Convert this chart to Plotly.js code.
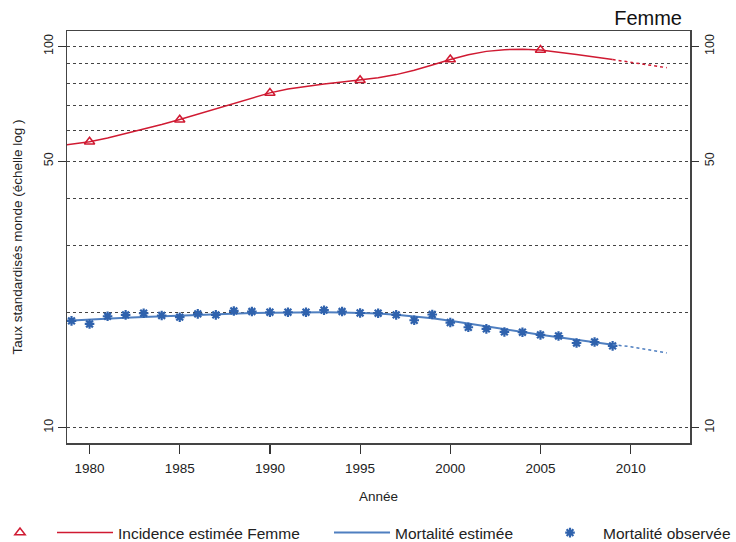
<!DOCTYPE html>
<html>
<head>
<meta charset="utf-8">
<script src="https://cdn.plot.ly/plotly-3.0.1.min.js"></script>
<style>html,body{margin:0;padding:0;background:#fff;}#chart{width:736px;height:542px;}</style>
</head>
<body>
<div id="chart"></div>
<script>
// ---- data ----
const incPointYears = [1980, 1985, 1990, 1995, 2000, 2005];
const incPointValues = [56.2, 64.2, 75.4, 81.5, 92.4, 97.8];

const curveYears = [1978,1979,1980,1981,1982,1983,1984,1985,1986,1987,1988,1989,1990,1991,1992,1993,1994,1995,1996,1997,1998,1999,2000,2001,2002,2003,2004,2005,2006,2007,2008,2009];
const incCurve = [54.6,55.4,56.2,57.5,59.0,60.6,62.4,64.3,66.4,68.6,70.8,73.2,75.5,77.3,78.6,79.7,80.6,81.5,82.7,84.3,86.5,89.3,92.4,95.0,97.0,98.0,98.3,97.8,96.6,95.2,93.7,92.3];
const mortCurve = [19.0,19.12,19.21,19.32,19.42,19.5,19.59,19.69,19.78,19.85,19.92,19.97,20.01,20.04,20.05,20.06,20.04,20.0,19.92,19.78,19.59,19.35,19.07,18.74,18.39,18.08,17.79,17.52,17.26,17.0,16.75,16.5];

const projYears = [2009, 2010, 2011, 2012];
const incProj = [92.3, 90.8, 89.3, 87.9];
const mortProj = [16.5, 16.3, 16.0, 15.7];

const obsYears = [1979,1980,1981,1982,1983,1984,1985,1986,1987,1988,1989,1990,1991,1992,1993,1994,1995,1996,1997,1998,1999,2000,2001,2002,2003,2004,2005,2006,2007,2008,2009];
const mortObs = [19.05,18.70,19.59,19.75,19.95,19.68,19.48,19.87,19.75,20.23,20.16,20.07,20.07,20.07,20.32,20.16,19.98,19.95,19.75,19.12,19.80,18.86,18.33,18.15,17.82,17.79,17.50,17.39,16.67,16.77,16.38];

const xTickVals = [1980, 1985, 1990, 1995, 2000, 2005, 2010];
const yLabelVals = [10, 50, 100];
const yGridMinor = [20, 30, 40, 60, 70, 80, 90];

const names = {inc: 'Incidence estimée Femme', mortEst: 'Mortalité estimée', mortObs: 'Mortalité observée'};

// ---- styles ----
const RED = '#d01a32';
const BLUE_LINE = '#4f7fc0';
const BLUE_MK = '#2f62ad';
const FONT = 'Liberation Sans, Arial, sans-serif';
const TXT = '#222';
const W = 736, H = 542;

const traces = [
  {x: curveYears, y: incCurve, type: 'scatter', mode: 'lines', name: names.inc,
   line: {color: RED, width: 1.5}, legend: 'legend2'},
  {x: projYears, y: incProj, type: 'scatter', mode: 'lines', showlegend: false,
   line: {color: RED, width: 1.5, dash: 'dot'}},
  {x: incPointYears, y: incPointValues, type: 'scatter', mode: 'markers', name: '',
   marker: {symbol: 'triangle-up-open', size: 9, color: RED, line: {color: RED, width: 1.5}}, legend: 'legend'},
  {x: curveYears, y: mortCurve, type: 'scatter', mode: 'lines', name: names.mortEst,
   line: {color: BLUE_LINE, width: 2}, legend: 'legend3'},
  {x: projYears, y: mortProj, type: 'scatter', mode: 'lines', showlegend: false,
   line: {color: BLUE_LINE, width: 1.5, dash: 'dot'}, yaxis: 'y2'},
  {x: obsYears, y: mortObs, type: 'scatter', mode: 'markers', name: names.mortObs,
   marker: {symbol: 'asterisk-open', size: 8, color: BLUE_MK, line: {color: BLUE_MK, width: 2.2}}, legend: 'legend4'}
];

const yRange = [0.9596, 2.0402];
const legendBase = {orientation: 'h', xanchor: 'left', yanchor: 'middle', xref: 'container', yref: 'container',
  y: 1 - 533/H, bgcolor: 'rgba(0,0,0,0)', borderwidth: 0, itemwidth: 56,
  font: {family: FONT, size: 15.5, color: TXT}};

const layout = {
  width: W, height: H,
  margin: {l: 67, r: 46, t: 31, b: 99, pad: 0},
  paper_bgcolor: '#fff', plot_bgcolor: '#fff',
  font: {family: FONT, color: TXT},
  title: {text: 'Femme', font: {family: FONT, size: 20, color: '#111'},
          x: 682/W, xanchor: 'right', xref: 'container', y: 1 - 18/H, yanchor: 'middle', yref: 'container'},
  xaxis: {
    range: [1978.75, 2013.29], tickvals: xTickVals, ticktext: xTickVals.map(String),
    ticks: 'outside', ticklen: 9, tickwidth: 1.2, tickcolor: '#333', ticklabelstandoff: 3,
    showgrid: false, zeroline: false, showline: true, mirror: true, linecolor: '#444', linewidth: 1.5,
    tickfont: {family: FONT, size: 13.5, color: TXT},
    title: {text: 'Année', font: {family: FONT, size: 13.5, color: TXT}, standoff: 17},
    automargin: false
  },
  yaxis: {
    type: 'log', range: yRange, tickvals: yLabelVals, ticktext: yLabelVals.map(String),
    ticks: 'outside', ticklen: 8, tickwidth: 1.2, tickcolor: '#333', tickangle: -90,
    showgrid: true, gridcolor: '#444', gridwidth: 1, griddash: 'dot',
    minor: {tickvals: yGridMinor, showgrid: true, gridcolor: '#444', gridwidth: 1, griddash: 'dot', ticks: ''},
    zeroline: false, showline: true, mirror: true, linecolor: '#444', linewidth: 1.5,
    tickfont: {family: FONT, size: 12.5, color: TXT},
    title: {text: 'Taux standardisés monde (échelle log )', font: {family: FONT, size: 13.5, color: TXT}, standoff: 16},
    automargin: false
  },
  yaxis2: {
    type: 'log', range: yRange, overlaying: 'y', side: 'right', tickvals: yLabelVals, ticktext: yLabelVals.map(String),
    ticks: 'outside', ticklen: 8, tickwidth: 1.2, tickcolor: '#333', tickangle: -90,
    showgrid: false, zeroline: false, showline: false,
    tickfont: {family: FONT, size: 12.5, color: TXT}, automargin: false
  },
  legend:  Object.assign({}, legendBase, {x: -3/W, itemwidth: 30}),
  legend2: Object.assign({}, legendBase, {x: 52/W}),
  legend3: Object.assign({}, legendBase, {x: 329/W}),
  legend4: Object.assign({}, legendBase, {x: 537/W}),
  showlegend: true
};

Plotly.newPlot('chart', traces, layout, {displayModeBar: false, staticPlot: true});
</script>
</body>
</html>
